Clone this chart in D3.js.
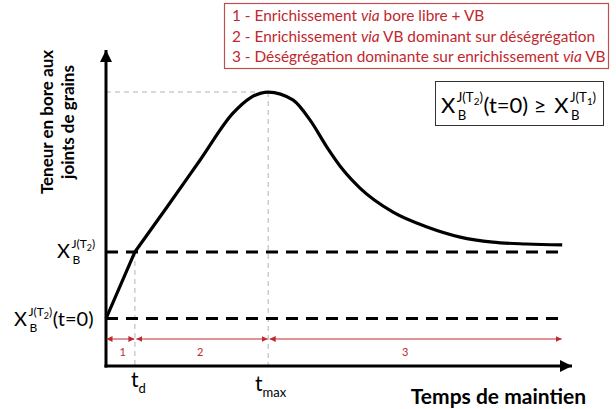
<!DOCTYPE html>
<html><head><meta charset="utf-8">
<script src="https://cdn.jsdelivr.net/npm/d3@7"></script>
<style>
body{margin:0;background:#fff}
svg{display:block}
text{font-family:Lato,"Open Sans",sans-serif}
</style>
</head><body>
<svg id="c" width="616" height="409"></svg>
<script>
// ---- data ----
const curveTime    = [0, 6.2, 13.1, 20.2, 27.3, 30.9, 34.8, 40.1, 43.8, 47.4, 50.9, 54.5, 61.6, 68.9, 76.0, 83.0, 90.3, 97.9];
const curveContent = [15, 36.1, 50.3, 65.2, 80.1, 84.8, 86.7, 84.2, 77.8, 69.3, 62.0, 56.3, 48.7, 44.0, 40.8, 39.2, 38.6, 38.3];
const levelValues  = [15, 36.1];           // X_B^J(T2)(t=0), X_B^J(T2)
const markTimes    = [6.2, 34.8];          // t_d, t_max
const markLabels   = [["t","d"], ["t","max"]];
const phaseStarts  = [0, 6.2, 34.8];
const phaseEnds    = [6.2, 34.8, 97.9];
const phaseLabels  = ["1", "2", "3"];
const phaseLabelAt = [3.6, 20.2, 64.2];
const legendLines  = [
  "1 - Enrichissement *via* bore libre + VB",
  "2 - Enrichissement *via* VB dominant sur déségrégation",
  "3 - Déségrégation dominante sur enrichissement *via* VB"
];
const xTitle = "Temps de maintien";
const yTitle = ["Teneur en bore aux", "joints de grains"];
const tMaxEnd = 97.9;

// ---- scales ----
const x = d3.scaleLinear().domain([0, 100]).range([106, 572]);
const y = d3.scaleLinear().domain([0, 100]).range([366, 50]);

const svg = d3.select("#c");
const defs = svg.append("defs");
function marker(id, color, w, h, orient){
  defs.append("marker").attr("id", id).attr("viewBox","0 0 10 10")
    .attr("refX", 10).attr("refY", 5).attr("markerUnits","userSpaceOnUse")
    .attr("markerWidth", w).attr("markerHeight", h).attr("orient", orient)
    .append("path").attr("d","M0,0 L10,5 L0,10 Z").attr("fill", color);
}
marker("ab", "#000", 12, 12, "auto");
marker("ar", "#c0282d", 6, 6, "auto-start-reverse");

const red = "#c0282d";
const grey = "#b3b3b3";
const peak = d3.max(curveContent);

// grey guides
svg.append("line").attr("x1", x(0)).attr("x2", x(markTimes[1]))
  .attr("y1", y(peak)).attr("y2", y(peak))
  .attr("stroke", grey).attr("stroke-width", 1).attr("stroke-dasharray", "5,4");
markTimes.forEach((t, i) => {
  svg.append("line").attr("x1", x(t)).attr("x2", x(t))
    .attr("y1", i === 0 ? y(levelValues[1]) : y(peak)).attr("y2", y(0))
    .attr("stroke", grey).attr("stroke-width", 1).attr("stroke-dasharray", "5,4");
});

// thick dashed levels
levelValues.forEach(v => {
  svg.append("line").attr("x1", x(0)).attr("x2", x(tMaxEnd))
    .attr("y1", y(v)).attr("y2", y(v))
    .attr("stroke", "#000").attr("stroke-width", 3).attr("stroke-dasharray", "12,8");
});

// curve: straight first segment, smooth afterwards
const idx = d3.range(curveTime.length);
const lin = d3.line().x(i => x(curveTime[i])).y(i => y(curveContent[i]));
const smooth = d3.line().x(i => x(curveTime[i])).y(i => y(curveContent[i])).curve(d3.curveMonotoneX);
svg.append("path").attr("d", lin(idx.slice(0, 2)) + smooth(idx.slice(1)).replace(/^M/, "L"))
  .attr("fill","none").attr("stroke","#000").attr("stroke-width", 3.2).attr("stroke-linejoin","round");

// axes with arrows
svg.append("line").attr("x1", x(0)).attr("x2", x(0)).attr("y1", y(0)+1.5).attr("y2", y(100))
  .attr("stroke","#000").attr("stroke-width",3).attr("marker-end","url(#ab)");
svg.append("line").attr("x1", x(0)-1.5).attr("x2", x(100)).attr("y1", y(0)).attr("y2", y(0))
  .attr("stroke","#000").attr("stroke-width",3).attr("marker-end","url(#ab)");

// x tick labels via axis
const xAxis = d3.axisBottom(x).tickValues(markTimes).tickSize(0).tickFormat("");
const gx = svg.append("g").attr("transform", `translate(0,${y(0)})`).call(xAxis);
gx.select(".domain").remove();
gx.selectAll(".tick").each(function(d, i){
  const lab = markLabels[i];
  const t = d3.select(this).append("text").attr("fill","#000").attr("text-anchor","middle")
    .attr("y", i === 0 ? 21 : 25).style("font-size","21px");
  t.append("tspan").text(lab[0]);
  t.append("tspan").attr("dy", 6).style("font-size","13px").text(lab[1]);
  t.attr("x", i === 0 ? 3 : 2);
});

// X_B^{J(T)} builder; returns x after the script part
function xb(g, xPos, yPos, size, idxDigit, suffix){
  const main = g.append("text").attr("x", xPos).attr("y", yPos).style("font-size", size + "px").text("X");
  const sx = xPos + main.node().getComputedTextLength() + 1.5;
  const sup = g.append("text").attr("x", sx).attr("y", yPos - size*0.5).style("font-size", (size*0.6) + "px")
    .html(`J(T<tspan dy="3" font-size="${size*0.45}">${idxDigit}</tspan><tspan dy="-3">)</tspan>`);
  g.append("text").attr("x", sx + 1).attr("y", yPos + size*0.3).style("font-size", (size*0.6) + "px").text("B");
  let end = sx + sup.node().getComputedTextLength();
  if (suffix) {
    const s = g.append("text").attr("x", end + 0.5).attr("y", yPos).style("font-size", size + "px")
      .attr("xml:space", "preserve").style("white-space", "pre").text(suffix);
    end = end + 0.5 + s.node().getComputedTextLength();
  }
  return end;
}
const yl = svg.append("g");
xb(yl, 57, y(levelValues[1]) + 6, 20, "2", null);
xb(yl, 14, y(levelValues[0]) + 7, 20, "2", "(t=0)");

// phase arrows
const ay = 339;
phaseStarts.forEach((s, i) => {
  svg.append("line").attr("x1", x(s) + (i ? 1.5 : 0.5)).attr("x2", x(phaseEnds[i]) - 0.5)
    .attr("y1", ay).attr("y2", ay).attr("stroke", red).attr("stroke-width", 1)
    .attr("marker-start","url(#ar)").attr("marker-end","url(#ar)");
  svg.append("text").attr("x", x(phaseLabelAt[i])).attr("y", ay + 17)
    .attr("text-anchor","middle").attr("fill", red).style("font-size","11px").text(phaseLabels[i]);
});

// axis titles
svg.append("text").attr("x", 586).attr("y", 404).attr("text-anchor","end")
  .style("font-size","21px").style("font-weight","bold").text(xTitle);
yTitle.forEach((s, i) => {
  svg.append("text").attr("transform", `translate(${53 + i*21},122) rotate(-90)`)
    .attr("text-anchor","middle").style("font-size","17px").style("font-weight","bold").text(s);
});

// legend box
svg.append("rect").attr("x", 224.5).attr("y", 3.5).attr("width", 384).attr("height", 65)
  .attr("fill","#fff").attr("stroke", "#c0504d").attr("stroke-width", 1.2);
legendLines.forEach((s, i) => {
  const t = svg.append("text").attr("x", 232).attr("y", 21 + i*20.7).attr("fill", red).style("font-size","15.4px");
  s.split("*").forEach((part, k) => {
    if (!part) return;
    const sp = t.append("tspan").text(part);
    if (k % 2 === 1) sp.style("font-style","italic");
  });
});

// formula box
svg.append("rect").attr("x", 435.5).attr("y", 81.5).attr("width", 168).attr("height", 44)
  .attr("fill","#fff").attr("stroke","#333").attr("stroke-width",1);
const fg = svg.append("g");
const e1 = xb(fg, 441, 113, 22, "2", "(t=0) \u2265 ");
xb(fg, e1 + 2, 113, 22, "1", null);
</script>
</body></html>
